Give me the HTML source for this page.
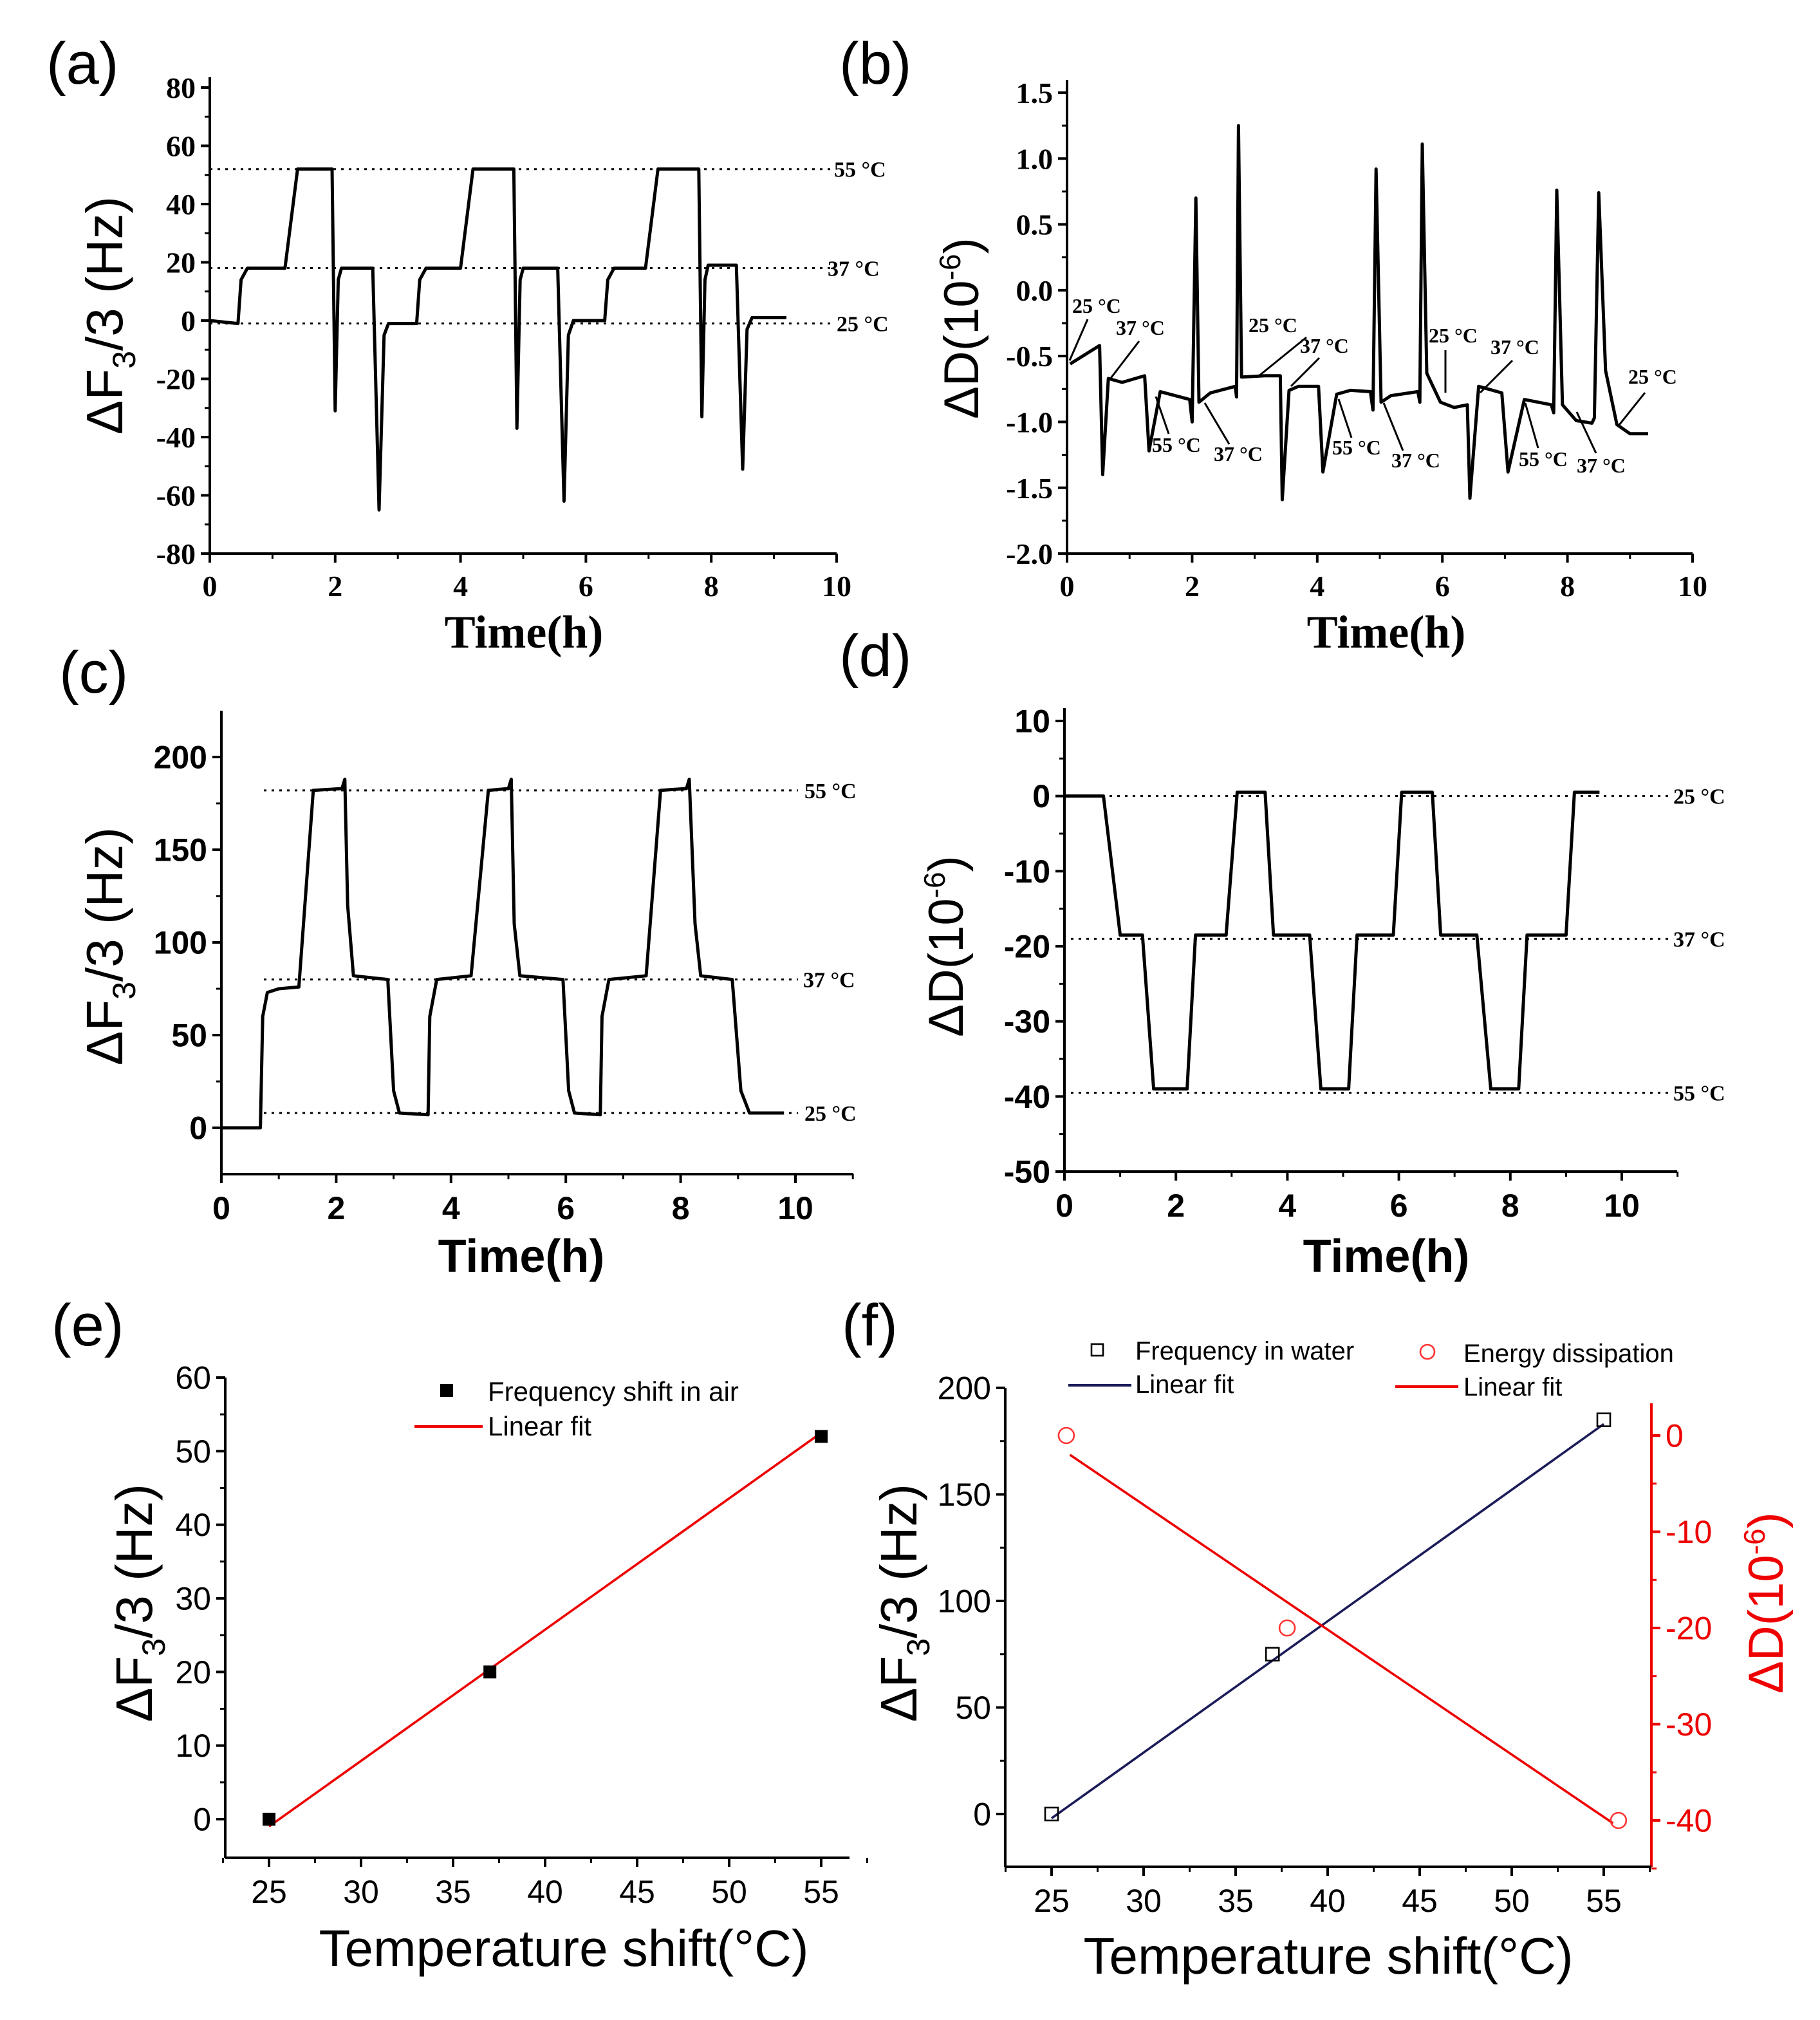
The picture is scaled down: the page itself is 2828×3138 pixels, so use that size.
<!DOCTYPE html>
<html><head><meta charset="utf-8">
<style>
html,body{margin:0;padding:0;background:#fff;}
svg{display:block;}
.tb{font-family:"Liberation Serif",serif;font-weight:bold;}
.sa{font-family:"Liberation Sans",sans-serif;}
.sb{font-family:"Liberation Sans",sans-serif;font-weight:bold;}
</style></head>
<body>
<svg id="fig" xmlns="http://www.w3.org/2000/svg" width="2828" height="3138" viewBox="0 0 1414 1569">
<rect width="1414" height="1569" fill="#fff"/>
</svg>
<script>
// ---------- DATA ----------
// (a) frequency in air vs time
const aTime=[0,0.45,0.5,0.6,1.2,1.4,1.95,2.0,2.05,2.1,2.6,2.7,2.78,2.85,3.3,3.35,3.45,4.0,4.2,4.85,4.9,4.95,5.0,5.55,5.65,5.72,5.8,6.3,6.35,6.45,6.95,7.15,7.8,7.85,7.9,7.95,8.4,8.5,8.57,8.65,9.2];
const aVal =[0,-1,14,18,18,52,52,-31,14,18,18,-65,-5,-1,-1,14,18,18,52,52,-37,14,18,18,-62,-5,0,0,14,18,18,52,52,-33,14,19,19,-51,-3,1,1];
const aRefs=[52,18,-1];
const aRefLabels=["55 °C","37 °C","25 °C"];
// (b) dissipation in air vs time
const bTime=[0.05,0.52,0.57,0.66,0.88,1.24,1.31,1.49,1.96,2.0,2.06,2.11,2.29,2.69,2.71,2.74,2.79,3.16,3.41,3.44,3.55,3.70,4.02,4.09,4.31,4.53,4.85,4.89,4.94,5.02,5.18,5.61,5.64,5.68,5.75,5.97,6.19,6.40,6.44,6.58,6.95,7.05,7.31,7.74,7.78,7.83,7.92,8.14,8.39,8.43,8.50,8.61,8.79,9.00,9.29];
const bVal =[-0.56,-0.42,-1.40,-0.67,-0.70,-0.65,-1.22,-0.77,-0.83,-1.0,0.70,-0.85,-0.78,-0.73,-0.81,1.25,-0.66,-0.65,-0.65,-1.59,-0.76,-0.73,-0.73,-1.38,-0.79,-0.76,-0.77,-0.91,0.92,-0.85,-0.80,-0.77,-0.85,1.11,-0.63,-0.85,-0.89,-0.87,-1.58,-0.73,-0.78,-1.38,-0.83,-0.87,-0.93,0.76,-0.87,-0.99,-1.01,-0.97,0.74,-0.61,-1.02,-1.09,-1.09];
// (c) frequency in water vs time
const cTime=[0,0.68,0.72,0.8,1.0,1.35,1.6,2.1,2.15,2.2,2.3,2.9,3.0,3.1,3.6,3.63,3.75,4.35,4.65,5.0,5.05,5.1,5.2,5.95,6.05,6.15,6.6,6.63,6.75,7.4,7.65,8.1,8.15,8.25,8.35,8.9,9.05,9.2,9.8];
const cVal =[0,0,60,73,75,76,182,183,188,120,82,80,20,8,7,60,80,82,182,183,188,110,82,80,20,8,7,60,80,82,182,183,188,110,82,80,20,8,8];
const cRefs=[182,80,8];
// (d) dissipation in water vs time
const dTime=[0,0.7,1.0,1.4,1.6,2.2,2.35,2.9,3.1,3.6,3.75,4.4,4.6,5.1,5.25,5.9,6.05,6.6,6.75,7.4,7.65,8.15,8.3,9.0,9.15,9.6];
const dVal =[0,0,-18.5,-18.5,-39,-39,-18.5,-18.5,0.5,0.5,-18.5,-18.5,-39,-39,-18.5,-18.5,0.5,0.5,-18.5,-18.5,-39,-39,-18.5,-18.5,0.5,0.5];
const dRefs=[0,-19,-39.5];
// (e)
const eTemp=[25,37,55];
const eFreq=[0,20,52];
const eFitT=[25,55];
const eFitV=[-1,52.5];
// (f)
const fTemp=[25,37,55];
const fFreq=[0,75,185];
const fFitT=[25,55];
const fFitV=[-2,183];
const fDTemp=[25.8,37.8,55.8];
const fDiss=[0,-20,-40];
const fDFitT=[26,55.5];
const fDFitV=[-2,-40.3];

// ---------- HELPERS ----------
const NS="http://www.w3.org/2000/svg";
const svg=document.getElementById('fig');
function el(tag,attrs,txt){const e=document.createElementNS(NS,tag);for(const k in attrs)e.setAttribute(k,attrs[k]);if(txt!==undefined)e.textContent=txt;svg.appendChild(e);return e;}
function lin(d0,d1,p0,p1){return v=>p0+(v-d0)*(p1-p0)/(d1-d0);}
function pathOf(xs,ys,X,Y){return xs.map((t,i)=>(i?'L':'M')+X(t).toFixed(1)+' '+Y(ys[i]).toFixed(1)).join(' ');}
function yAxis(x,y0,y1,ticks,Y,minor,fmt,cls,fs,side,color){
  color=color||'#000';
  const a=el('line',{x1:x,y1:y0,x2:x,y2:y1,stroke:color,'stroke-width':2});
  
  const dir=side==='right'?1:-1;
  ticks.forEach(v=>{const y=Y(v);el('line',{x1:x,y1:y,x2:x+dir*7,y2:y,stroke:color,'stroke-width':2});
    const t=el('text',{x:x+dir*11,y:y+fs*0.35,'text-anchor':side==='right'?'start':'end','font-size':fs,class:cls,fill:color},fmt(v));
    });
  minor.forEach(v=>{const y=Y(v);el('line',{x1:x,y1:y,x2:x+dir*4,y2:y,stroke:color,'stroke-width':1.5});});
}
function xAxis(y,x0,x1,ticks,X,minor,cls,fs){
  const a=el('line',{x1:x0,y1:y,x2:x1,y2:y,stroke:'#000','stroke-width':2});
  
  ticks.forEach(v=>{const x=X(v);el('line',{x1:x,y1:y,x2:x,y2:y+7,stroke:'#000','stroke-width':2});
    const t=el('text',{x:x,y:y+fs+10,'text-anchor':'middle','font-size':fs,class:cls},String(v));
    });
  minor.forEach(v=>{const x=X(v);el('line',{x1:x,y1:y,x2:x,y2:y+4,stroke:'#000','stroke-width':1.5});});
}
function range(a,b,s){const r=[];for(let v=a;v<=b+1e-9;v+=s)r.push(+v.toFixed(4));return r;}
function panelLabel(x,y,s){const t=el('text',{x:x,y:y,'font-size':46,class:'sa'},s);}
function ytitle(x,y,html,fs,color){const t=el('text',{transform:`translate(${x},${y}) rotate(-90)`,'text-anchor':'middle','font-size':fs,class:'sa',fill:color||'#000'});t.innerHTML=html;return t;}
function xtitle(x,y,s,fs,cls,bold){const t=el('text',{x:x,y:y,'text-anchor':'middle','font-size':fs,class:cls,'font-weight':bold?'bold':'normal'},s);}
function refLine(x0,x1,y,lab,lx,cls,fs){el('line',{x1:x0,y1:y,x2:x1,y2:y,stroke:'#000','stroke-width':1.5,'stroke-dasharray':'2,4'});
  const t=el('text',{x:lx,y:y+6,'font-size':fs,class:cls},lab);}
function series(xs,ys,X,Y,name,color,w){const p=el('path',{d:pathOf(xs,ys,X,Y),fill:'none',stroke:color||'#000','stroke-width':w||2.5,'stroke-linejoin':'round'});}

// ---------- (a) ----------
panelLabel(36,65,'(a)');
{const X=lin(0,10,163,650),Y=lin(80,-80,68,430);
 yAxis(163,60,430,range(-80,80,20),Y,range(-70,70,20),v=>String(v),'tb',23,'left');
 xAxis(430,163,650,range(0,10,2),X,range(1,9,2),'tb',23);
 aRefs.forEach((r,i)=>refLine(163,645,Y(r),aRefLabels[i],[648,643,650][i],'tb',17));
 series(aTime,aVal,X,Y,'frequency-air-line');
 ytitle(95,245,'ΔF<tspan font-size="25" dy="10">3</tspan><tspan dy="-10">/3 (Hz)</tspan>',40);
 xtitle(407,503,'Time(h)',36,'tb');}

// ---------- (b) ----------
panelLabel(652,65,'(b)');
{const X=lin(0,10,829,1315),Y=lin(1.5,-2.0,72,430);
 yAxis(829,62,430,range(-2,1.5,0.5),Y,range(-1.75,1.25,0.5),v=>v.toFixed(1),'tb',23,'left');
 xAxis(430,829,1315,range(0,10,2),X,range(1,9,2),'tb',23);
 series(bTime,bVal,X,Y,'dissipation-air-line');
 const labs=[["25 °C",833,243],["37 °C",867,260],["55 °C",895,351],["37 °C",943,358],["25 °C",970,258],["37 °C",1010,274],["55 °C",1035,353],["37 °C",1081,363],["25 °C",1110,266],["37 °C",1158,275],["55 °C",1180,362],["37 °C",1225,367],["25 °C",1265,298]];
 labs.forEach(l=>{const t=el('text',{x:l[1],y:l[2],'font-size':16,class:'tb','font-weight':'bold'},l[0]);});
 const arr=[[845,248,831,280],[885,265,862,295],[908,337,898,308],[955,345,936,313],[1015,262,978,292],[1025,278,1003,300],[1050,340,1040,310],[1090,350,1075,313],[1123,272,1123,305],[1175,280,1150,305],[1195,348,1185,313],[1240,352,1225,320],[1278,305,1258,330]];
 arr.forEach(a=>{el('line',{x1:a[0],y1:a[1],x2:a[2],y2:a[3],stroke:'#000','stroke-width':1.5});});
 ytitle(760,255,'ΔD(10<tspan font-size="23" dy="-14">-6</tspan><tspan dy="14">)</tspan>',38);
 xtitle(1077,503,'Time(h)',36,'tb');}

// ---------- (c) ----------
panelLabel(46,538,'(c)');
{const X=lin(0,10,172,618),Y=lin(200,0,588,876);
 yAxis(172,552,912,range(0,200,50),Y,range(25,175,50),v=>String(v),'sb',25,'left');
 xAxis(912,172,663,range(0,10,2),X,range(1,11,2),'sb',25);
 cRefs.forEach((r,i)=>refLine(205,620,Y(r),aRefLabels[i],[625,624,625][i],'tb',17));
 series(cTime,cVal,X,Y,'frequency-water-line');
 ytitle(95,735,'ΔF<tspan font-size="25" dy="10">3</tspan><tspan dy="-10">/3 (Hz)</tspan>',40);
 xtitle(405,988,'Time(h)',36,'sa',true);}

// ---------- (d) ----------
panelLabel(652,525,'(d)');
{const X=lin(0,10,827,1260),Y=lin(10,-50,560,910);
 yAxis(827,550,910,range(-50,10,10),Y,range(-45,5,10),v=>String(v),'sb',25,'left');
 xAxis(910,827,1303,range(0,10,2),X,range(1,11,2),'sb',25);
 dRefs.forEach((r,i)=>refLine(832,1297,Y(r),aRefLabels[2-i],1300,'tb',17));
 series(dTime,dVal,X,Y,'dissipation-water-line');
 ytitle(748,735,'ΔD(10<tspan font-size="23" dy="-14">-6</tspan><tspan dy="14">)</tspan>',38);
 xtitle(1077,988,'Time(h)',36,'sa',true);}

// ---------- (e) ----------
panelLabel(40,1045,'(e)');
{const X=lin(25,55,209,638),Y=lin(0,60,1413,1070);
 yAxis(175,1070,1443,range(0,60,10),Y,range(5,55,10),v=>String(v),'sa',25,'left');
 xAxis(1443,175,660,range(25,55,5),X,range(22.5,57.5,5),'sa',25);
 series(eFitT,eFitV,X,Y,'linear-fit-line','#e00',1.8);
 eTemp.forEach((t,i)=>{const r=el('rect',{x:X(t)-5,y:Y(eFreq[i])-5,width:10,height:10,fill:'#000'});});
 el('rect',{x:342,y:1075,width:10,height:10,fill:'#000'});
 let t=el('text',{x:379,y:1088,'font-size':21,class:'sa'},'Frequency shift in air');
 el('line',{x1:322,y1:1108,x2:375,y2:1108,stroke:'#e00','stroke-width':2});
 t=el('text',{x:379,y:1115,'font-size':21,class:'sa'},'Linear fit');
 ytitle(118,1245,'ΔF<tspan font-size="25" dy="10">3</tspan><tspan dy="-10">/3 (Hz)</tspan>',40);
 xtitle(438,1527,'Temperature shift(°C)',40,'sa');}

// ---------- (f) ----------
panelLabel(654,1045,'(f)');
{const X=lin(25,55,817,1246),Y=lin(0,200,1409,1078),Y2=lin(0,-40,1115,1414);
 yAxis(781,1078,1450,range(0,200,50),Y,range(25,175,50),v=>String(v),'sa',25,'left');
 yAxis(1283,1090,1450,range(-40,0,10),Y2,range(-45,-5,10),v=>String(v),'sa',25,'right','#e00');
 xAxis(1450,781,1283,range(25,55,5),X,range(22.5,57.5,5),'sa',25);
 series(fFitT,fFitV,X,Y,'water-linear-fit','#1c1c5a',1.8);
 series(fDFitT,fDFitV,X,Y2,'dissipation-linear-fit','#e00',1.8);
 fTemp.forEach((t,i)=>{const r=el('rect',{x:X(t)-5,y:Y(fFreq[i])-5,width:10,height:10,fill:'none',stroke:'#000','stroke-width':1.3});});
 fDTemp.forEach((t,i)=>{const c=el('circle',{cx:X(t),cy:Y2(fDiss[i]),r:6,fill:'none',stroke:'#f33','stroke-width':1.3});});
 el('rect',{x:848,y:1044,width:9,height:9,fill:'none',stroke:'#000','stroke-width':1.3});
 let t=el('text',{x:882,y:1056,'font-size':20,class:'sa'},'Frequency in water');
 el('line',{x1:830,y1:1076,x2:879,y2:1076,stroke:'#1c1c5a','stroke-width':2});
 t=el('text',{x:882,y:1082,'font-size':20,class:'sa'},'Linear fit');
 el('circle',{cx:1109,cy:1050,r:5.5,fill:'none',stroke:'#f33','stroke-width':1.3});
 t=el('text',{x:1137,y:1058,'font-size':20,class:'sa'},'Energy dissipation');
 el('line',{x1:1084,y1:1077,x2:1133,y2:1077,stroke:'#e00','stroke-width':2});
 t=el('text',{x:1137,y:1084,'font-size':20,class:'sa'},'Linear fit');
 ytitle(712,1245,'ΔF<tspan font-size="25" dy="10">3</tspan><tspan dy="-10">/3 (Hz)</tspan>',40);
 ytitle(1385,1245,'ΔD(10<tspan font-size="23" dy="-14">-6</tspan><tspan dy="14">)</tspan>',38,'#e00');
 xtitle(1032,1533,'Temperature shift(°C)',40,'sa');}
</script>
</body></html>
